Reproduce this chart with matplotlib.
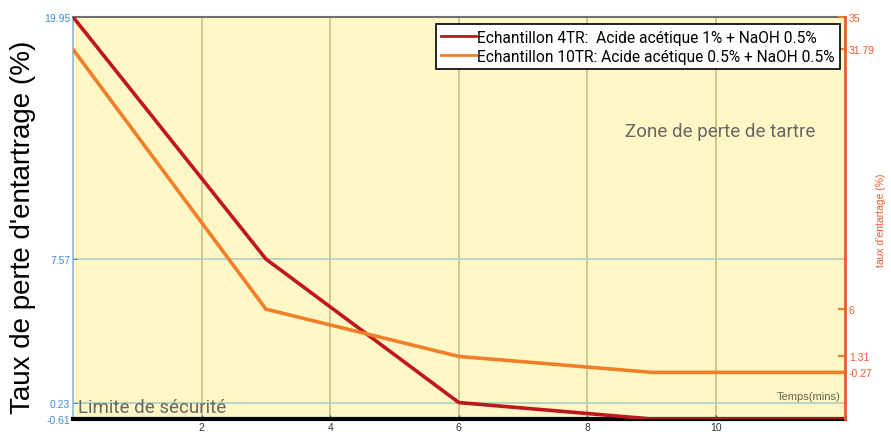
import matplotlib
matplotlib.use("Agg")
import matplotlib.pyplot as plt
from matplotlib.lines import Line2D

# Time points (minutes)
temps = [0, 3, 6, 9, 12]
# Sample 4TR (left axis) and sample 10TR (right axis)
serie_4tr = [19.95, 7.57, 0.23, -0.61, -0.61]
serie_10tr = [31.79, 6.0, 1.31, -0.27, -0.27]

label_4tr = "Echantillon 4TR:  Acide acétique 1% + NaOH 0.5%"
label_10tr = "Echantillon 10TR: Acide acétique 0.5% + NaOH 0.5%"

x_ticks = [2, 4, 6, 8, 10]
left_ticks = [-0.61, 0.23, 7.57, 19.95]
right_ticks = [-0.27, 1.31, 6, 31.79, 35]

c_red = "#C0161E"
c_orange = "#F07F2A"
c_left = "#3A8FD8"
c_right = "#F0582A"
bg = "#FFF7C6"

fig = plt.figure(figsize=(8.91, 4.35), dpi=100)
ax = fig.add_axes([0.082, 0.0345, 0.866, 0.924])
ax.set_facecolor(bg)

ax.set_xlim(0, 12)
ax.set_ylim(-0.61, 19.95)

# grid lines
for xv in x_ticks:
    ax.axvline(xv, color="#C8BE8A", lw=1.2, zorder=1)
for yv in left_ticks:
    ax.axhline(yv, color="#A8CFC4", lw=1.2, zorder=1)

ax.plot(temps, serie_4tr, color=c_red, lw=2.6, zorder=4, solid_joinstyle="miter")

ax.set_xticks(x_ticks)
ax.set_xticklabels([str(v) for v in x_ticks], fontsize=7.5, color="#333333",
                   family="Liberation Sans")
ax.tick_params(axis="x", direction="in", length=3, width=1, colors="#555555",
               labelcolor="#333333", pad=2)
ax.set_yticks(left_ticks)
ax.set_yticklabels(["%g" % v for v in left_ticks], fontsize=7.5, color=c_left,
                   family="Liberation Sans")
ax.tick_params(axis="y", direction="in", length=3, colors=c_left, pad=2)

ax.set_ylabel("Taux de perte d'entartrage (%)", fontsize=20,
              family="Liberation Sans", color="black")
ax.yaxis.set_label_coords(-0.048, 0.479)

ax.spines["left"].set_color("#8FB8D8")
ax.spines["left"].set_linewidth(1.2)
ax.spines["bottom"].set_color("black")
ax.spines["bottom"].set_linewidth(3)
ax.spines["top"].set_color("#707070")
ax.spines["top"].set_linewidth(1.5)
ax.spines["right"].set_visible(False)

ax2 = ax.twinx()
ax2.set_ylim(-4.9, 35)
ax2.plot(temps, serie_10tr, color=c_orange, lw=2.6, zorder=3, solid_joinstyle="miter")
ax2.set_yticks(right_ticks)
ax2.set_yticklabels(["%g" % v for v in right_ticks], fontsize=7.5, color=c_right,
                    family="Liberation Sans")
ax2.tick_params(axis="y", direction="in", length=5, width=1.5, colors=c_orange,
                labelcolor=c_right, pad=3)
ax2.set_ylabel("taux d'entartage (%)", fontsize=7.5, color=c_right,
               family="Liberation Sans")
ax2.yaxis.set_label_coords(1.041, 0.4975)
ax2.spines["right"].set_color(c_right)
ax2.spines["right"].set_linewidth(2)
for s in ("left", "top", "bottom"):
    ax2.spines[s].set_visible(False)

ax.text(0.995, 0.045, "Temps(mins)", transform=ax.transAxes, ha="right",
        va="bottom", fontsize=8, color="#666655", family="Liberation Sans")
ax.text(0.006, 0.008, "Limite de sécurité", transform=ax.transAxes, ha="left",
        va="bottom", fontsize=13.5, color="#666666", family="Roboto")
ax.text(0.962, 0.716, "Zone de perte de tartre", transform=ax.transAxes,
        ha="right", va="center", fontsize=13.5, color="#666666", family="Roboto")

handles = [Line2D([], [], color=c_red, lw=2), Line2D([], [], color=c_orange, lw=2)]
leg = ax2.legend(handles, [label_4tr, label_10tr], loc="upper right",
                 bbox_to_anchor=(0.998, 0.99), frameon=True,
                 fancybox=False, edgecolor="black", framealpha=1,
                 handlelength=2.2, handletextpad=0.1, borderpad=0.35,
                 labelspacing=0.25, borderaxespad=0.2,
                 prop={"family": "Roboto", "size": 11.2})
leg.get_frame().set_linewidth(1.2)

fig.savefig("out.png", dpi=100, facecolor="white")
